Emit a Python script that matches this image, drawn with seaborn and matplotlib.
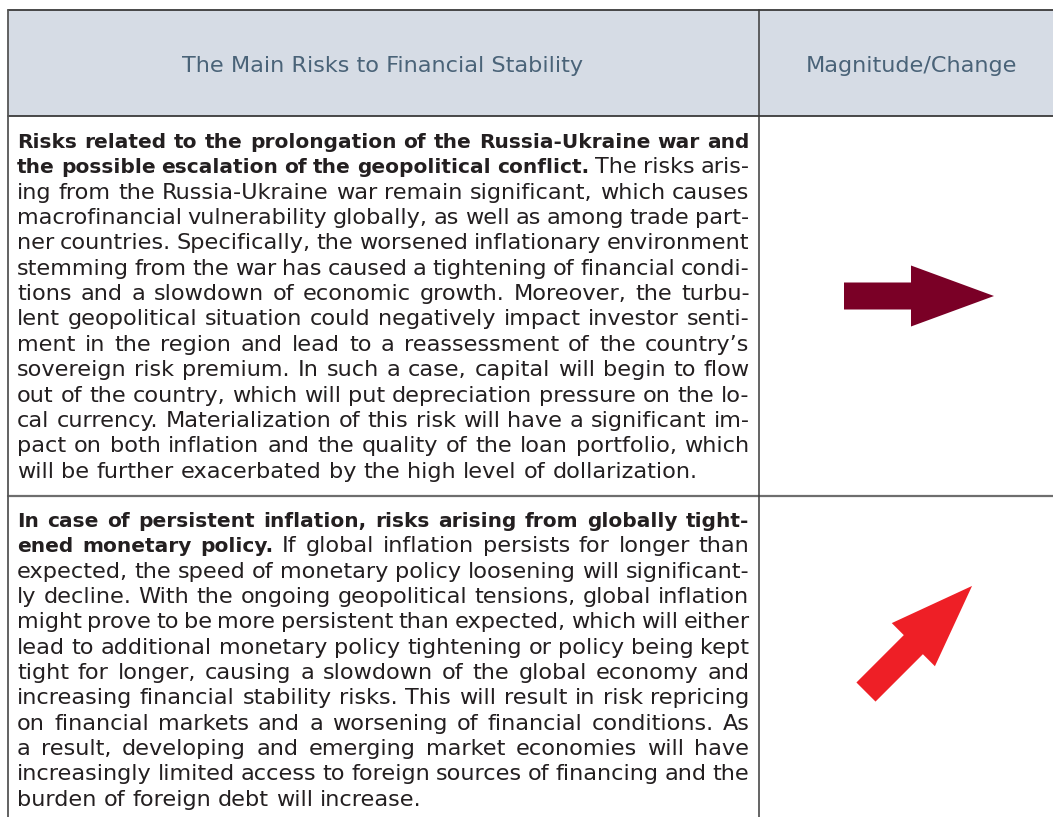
import numpy as np
import matplotlib
matplotlib.use("Agg")
import matplotlib.pyplot as plt
import seaborn as sns
from matplotlib.patches import Polygon, Rectangle

# table content
header_labels = ["The Main Risks to Financial Stability", "Magnitude/Change"]

# ** marks the bold lead-in of each risk
risk1_lines = [
    "**Risks related to the prolongation of the Russia-Ukraine war and**",
    "**the possible escalation of the geopolitical conflict.** The risks aris-",
    "ing from the Russia-Ukraine war remain significant, which causes",
    "macrofinancial vulnerability globally, as well as among trade part-",
    "ner countries. Specifically, the worsened inflationary environment",
    "stemming from the war has caused a tightening of financial condi-",
    "tions and a slowdown of economic growth. Moreover, the turbu-",
    "lent geopolitical situation could negatively impact investor senti-",
    "ment in the region and lead to a reassessment of the country\u2019s",
    "sovereign risk premium. In such a case, capital will begin to flow",
    "out of the country, which will put depreciation pressure on the lo-",
    "cal currency. Materialization of this risk will have a significant im-",
    "pact on both inflation and the quality of the loan portfolio, which",
    "will be further exacerbated by the high level of dollarization.",
]

risk2_lines = [
    "**In case of persistent inflation, risks arising from globally tight-**",
    "**ened monetary policy.** If global inflation persists for longer than",
    "expected, the speed of monetary policy loosening will significant-",
    "ly decline. With the ongoing geopolitical tensions, global inflation",
    "might prove to be more persistent than expected, which will either",
    "lead to additional monetary policy tightening or policy being kept",
    "tight for longer, causing a slowdown of the global economy and",
    "increasing financial stability risks. This will result in risk repricing",
    "on financial markets and a worsening of financial conditions. As",
    "a result, developing and emerging market economies will have",
    "increasingly limited access to foreign sources of financing and the",
    "burden of foreign debt will increase.",
]

risk_rows = [risk1_lines, risk2_lines]
risk_change = ["right", "up-right"]     # magnitude/change arrow direction
change_colors = ["#7a0026", "#ee1f26"]

sns.set_theme(style="white")
plt.rcParams['font.family'] = ['DejaVu Sans']

W, H = 1053, 817
fig = plt.figure(figsize=(W / 100, H / 100), dpi=100)
ax = fig.add_axes([0, 0, 1, 1])
ax.set_xlim(0, W)
ax.set_ylim(H, 0)
ax.axis("off")
fig.canvas.draw()
renderer = fig.canvas.get_renderer()

FS = 16.1
BOLD_SCALE = 0.9     # the bold lead-in is set a touch narrower
TEXT_COL = "#231f20"
LEFT, RIGHT = 17, 749.5
LINE_H = 25.35
first_base = [148, 527]
arrow_y = [296, 639]
arrow_x = 919

_cache = {}


def text_width(s, bold, size):
    key = (s, bold, size)
    if key not in _cache:
        t = ax.text(0, 0, s, fontsize=size * (BOLD_SCALE if bold else 1),
                    fontweight="bold" if bold else "normal")
        _cache[key] = t.get_window_extent(renderer).width
        t.remove()
    return _cache[key]


def parse(line):
    words, bold = [], False
    for tok in line.split(" "):
        if tok.startswith("**"):
            bold, tok = True, tok[2:]
        end = tok.endswith("**")
        if end:
            tok = tok[:-2]
        words.append((tok, bold))
        if end:
            bold = False
    return words


def draw_line(line, y, justify):
    words = parse(line)
    size = FS
    widths = [text_width(w, b, size) for w, b in words]
    space = text_width("a a", False, size) - 2 * text_width("a", False, size)
    avail = RIGHT - LEFT
    if justify and len(words) > 1:
        gap = (avail - sum(widths)) / (len(words) - 1)
        if gap < 0.6 * space:
            # squeeze overly long lines a little
            size = FS * (avail - 0.6 * space * (len(words) - 1)) / sum(widths)
            widths = [text_width(w, b, size) for w, b in words]
            gap = (avail - sum(widths)) / (len(words) - 1)
    else:
        gap = space
    x = LEFT
    for (w, b), wd in zip(words, widths):
        ax.text(x, y, w, fontsize=size * (BOLD_SCALE if b else 1),
                fontweight="bold" if b else "normal",
                color=TEXT_COL, ha="left", va="baseline")
        x += wd + gap


# header band
ax.add_patch(Rectangle((8, 10), W - 8, 106, facecolor="#d6dce5", edgecolor="none", zorder=0))
ax.text(383, 72, header_labels[0], fontsize=FS, color="#4a6378", ha="center", va="baseline")
ax.text(912, 72, header_labels[1], fontsize=FS, color="#4a6378", ha="center", va="baseline")

# grid lines
ax.plot([8, W], [10, 10], color="#3a3a3a", lw=1.3)
ax.plot([8, W], [116, 116], color="#3a3a3a", lw=1.3)
ax.plot([8, W], [495.5, 495.5], color="#6e6e6e", lw=1.6)
ax.plot([8, 8], [10, H], color="#555555", lw=1.3)
ax.plot([759, 759], [10, H], color="#3a3a3a", lw=1.1)

# body text
for r, lines in enumerate(risk_rows):
    for i, line in enumerate(lines):
        draw_line(line, first_base[r] + i * LINE_H, justify=(i < len(lines) - 1))

# arrows
shape = np.array([[-75, -13.5], [-8, -13.5], [-8, -30.5], [75, 0],
                  [-8, 30.5], [-8, 13.5], [-75, 13.5]])
angles = {"right": 0, "up-right": 45, "up": 90, "down-right": -45, "down": -90}
for r, direction in enumerate(risk_change):
    a = np.deg2rad(angles[direction])
    rot = np.array([[np.cos(a), -np.sin(a)], [np.sin(a), np.cos(a)]])
    pts = shape @ rot + [arrow_x, arrow_y[r]]
    ax.add_patch(Polygon(pts, closed=True, facecolor=change_colors[r], edgecolor="none"))

fig.savefig("out.png", dpi=100)
